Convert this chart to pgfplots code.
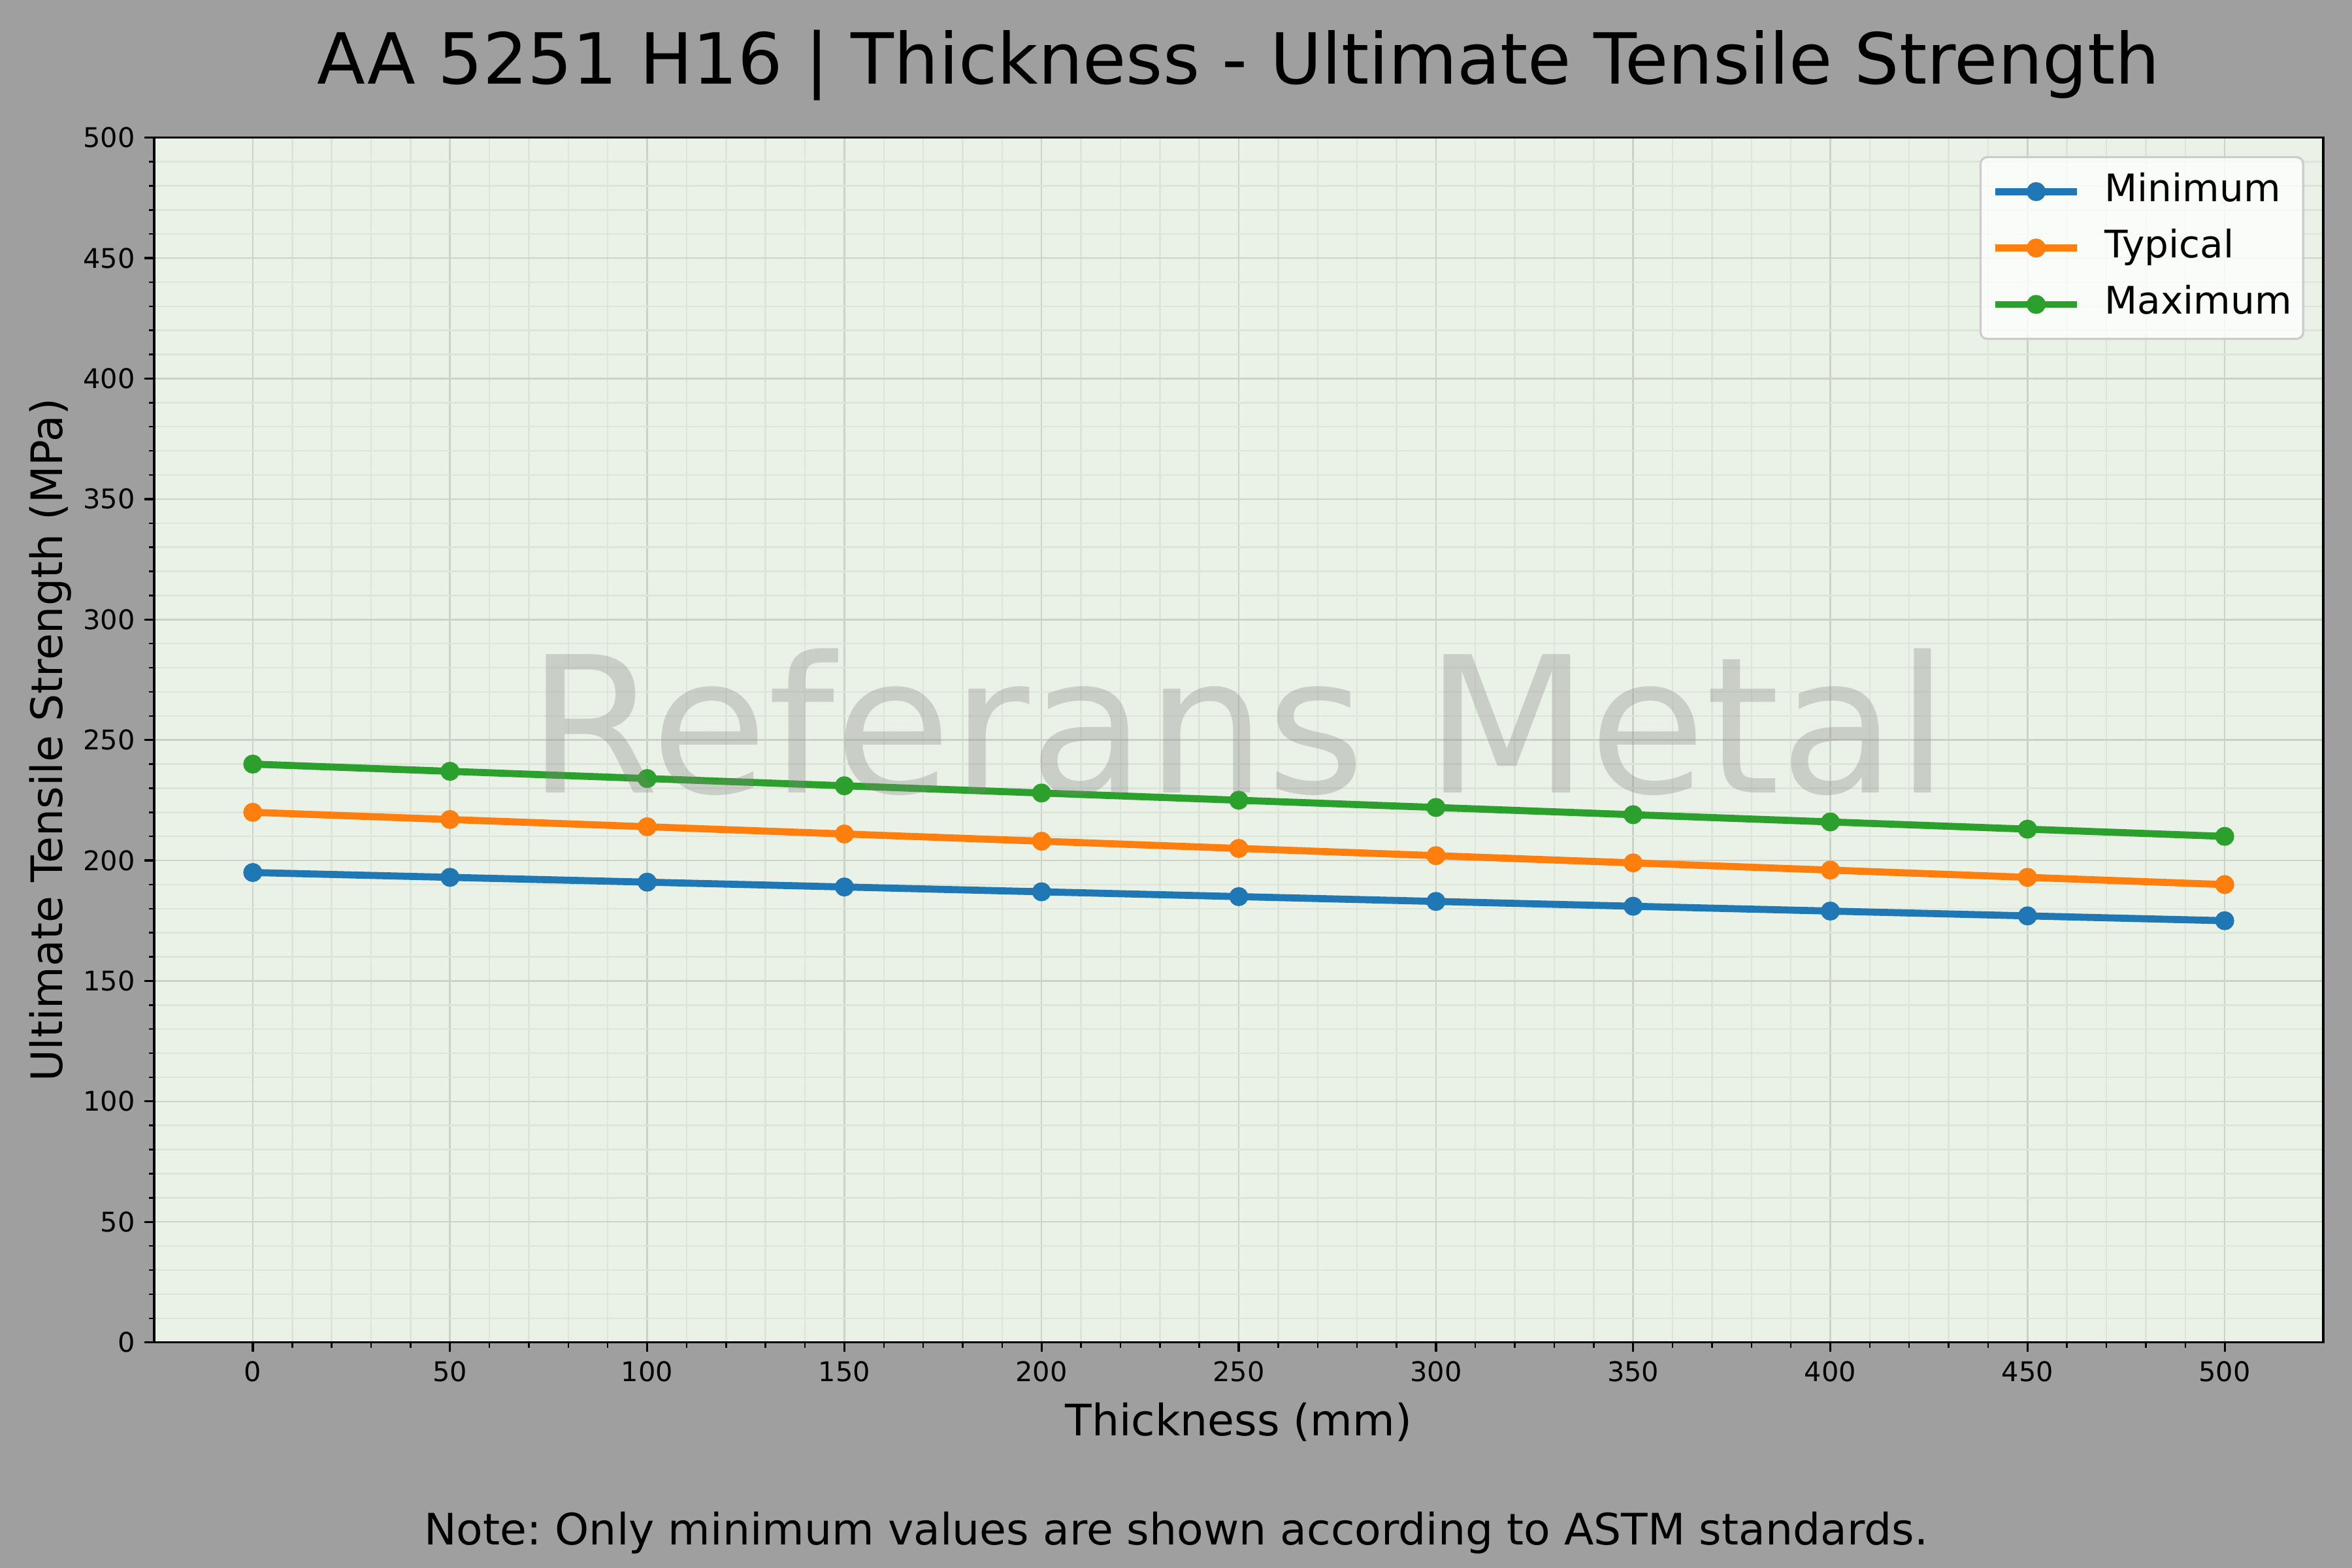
\documentclass[border=0pt]{standalone}
\usepackage{fontspec}
\setmainfont{DejaVu Sans}
\usepackage{pgfplots}
\pgfplotsset{compat=1.18}
\frenchspacing

\definecolor{figbg}{HTML}{9F9F9F}
\definecolor{axbg}{HTML}{EAF2E7}
\definecolor{gridmaj}{HTML}{CDD2C8}
\definecolor{gridmin}{HTML}{DDE4D8}
\definecolor{tabblue}{HTML}{1F77B4}
\definecolor{taborange}{HTML}{FF7F0E}
\definecolor{tabgreen}{HTML}{2CA02C}
\definecolor{legedge}{HTML}{CCCCCC}

\begin{document}
\begin{tikzpicture}
\fill[figbg] (0,0) rectangle (867.24pt,578.16pt);
\begin{axis}[
    at={(56.85pt,83.2pt)}, anchor=south west,
    scale only axis, width=799.8pt, height=444.2pt,
    xmin=-25, xmax=525, ymin=0, ymax=500,
    xtick={0,50,...,500}, ytick={0,50,...,500},
    minor x tick num=4, minor y tick num=4,
    tick align=outside, xtick pos=left, ytick pos=left,
    major tick length=3.5pt, minor tick length=2pt,
    major tick style={black, line width=0.8pt},
    minor tick style={black, line width=0.6pt},
    axis line style={line width=0.8pt},
    axis background/.style={fill=axbg},
    grid=both,
    major grid style={gridmaj, line width=0.6pt},
    minor grid style={gridmin, line width=0.6pt},
    /pgf/number format/assume math mode=true,
    ticklabel style={font=\fontsize{10}{12}\selectfont},
    legend style={at={(axis description cs:1,1)}, anchor=north east,
        xshift=-7pt, yshift=-6.8pt,
        draw=legedge, line width=0.8pt, fill=white, fill opacity=0.8, text opacity=1,
        rounded corners=2.5pt, inner xsep=4.2pt, inner ysep=5.8pt,
        font=\fontsize{14}{17}\selectfont, row sep=7pt, column sep=9pt,
        nodes={inner sep=0pt, text height=10.5pt, text depth=3.3pt}},
    legend cell align=left,
    legend image code/.code={
        \draw[mark repeat=2, mark phase=2, fill opacity=1]
            plot coordinates {(0pt,0pt) (15pt,0pt) (30pt,0pt)};
    },
]
\addplot[tabblue, line width=2.6pt, line join=round, mark=*, mark size=3pt,
    mark options={line width=1pt}] coordinates {
    (0,195) (50,193) (100,191) (150,189) (200,187) (250,185)
    (300,183) (350,181) (400,179) (450,177) (500,175)
};
\addlegendentry{Minimum}
\addplot[taborange, line width=2.6pt, line join=round, mark=*, mark size=3pt,
    mark options={line width=1pt}] coordinates {
    (0,220) (50,217) (100,214) (150,211) (200,208) (250,205)
    (300,202) (350,199) (400,196) (450,193) (500,190)
};
\addlegendentry{Typical}
\addplot[tabgreen, line width=2.6pt, line join=round, mark=*, mark size=3pt,
    mark options={line width=1pt}] coordinates {
    (0,240) (50,237) (100,234) (150,231) (200,228) (250,225)
    (300,222) (350,219) (400,216) (450,213) (500,210)
};
\addlegendentry{Maximum}
\end{axis}

% watermark over the plot area
\node[anchor=base, text=gray, text opacity=0.3, font=\fontsize{70}{84}\selectfont]
    at (456.7pt,285.9pt) {Referans Metal};

\node[anchor=base, font=\fontsize{26}{31}\selectfont] at (456.7pt,547.3pt)
    {AA 5251 H16 | Thickness - Ultimate Tensile Strength};
\node[anchor=base, font=\fontsize{16}{19}\selectfont] at (456.7pt,48.9pt)
    {Thickness (mm)};
\node[anchor=base, rotate=90, font=\fontsize{16}{19}\selectfont] at (22.9pt,305.3pt)
    {Ultimate Tensile Strength (MPa)};
\node[anchor=base, font=\fontsize{16}{19}\selectfont] at (433.62pt,8.45pt)
    {Note: Only minimum values are shown according to ASTM standards.};
\end{tikzpicture}
\end{document}
